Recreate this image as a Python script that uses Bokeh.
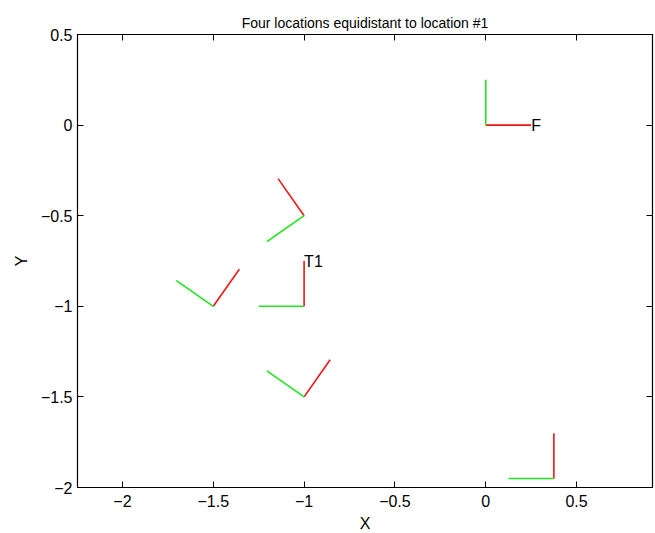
import numpy as np
from bokeh.plotting import figure
from bokeh.models import LinearAxis, Range1d, FixedTicker, ColumnDataSource, CustomJSTickFormatter
from bokeh.embed import file_html
from bokeh.resources import INLINE
from bokeh.core.properties import value

# Frame data: origins and rotation angles (degrees), axis length
frame_x = [0.0, -1.0, -1.0, -1.5, -1.0, 0.375]
frame_y = [0.0, -1.0, -0.5, -1.0, -1.5, -1.95]
frame_angle = [0.0, 90.0, 125.0, 55.0, 55.0, 90.0]
axis_len = 0.25

label_text = ["F", "T1"]
label_frame = [0, 1]

x_ticks = [-2, -1.5, -1, -0.5, 0, 0.5]
y_ticks = [-2, -1.5, -1, -0.5, 0, 0.5]

ox = np.array(frame_x)
oy = np.array(frame_y)
th = np.deg2rad(np.array(frame_angle))
red_x = ox + axis_len * np.cos(th)
red_y = oy + axis_len * np.sin(th)
green_x = ox - axis_len * np.sin(th)
green_y = oy + axis_len * np.cos(th)

FONT = "Liberation Sans"

p = figure(frame_width=575, frame_height=453,
           x_range=Range1d(-2.2475, 0.918), y_range=Range1d(-2.0, 0.5),
           output_backend="svg", toolbar_location=None,
           min_border_left=77, min_border_right=2, min_border_top=34,
           min_border_bottom=44, title="Four locations equidistant to location #1")

p.title.align = "center"
p.title.vertical_align = "top"
p.title.text_font = FONT
p.title.text_font_size = "14px"
p.title.text_font_style = "normal"
p.title.text_color = "#000000"
p.title.standoff = 4

p.xgrid.visible = False
p.ygrid.visible = False
p.outline_line_color = "#000000"
p.outline_line_width = 1.2

for ax in [p.xaxis[0], p.yaxis[0]]:
    ax.ticker = FixedTicker(ticks=x_ticks if ax is p.xaxis[0] else y_ticks)
    ax.major_tick_in = 6
    ax.major_tick_out = 0
    ax.minor_tick_in = 0
    ax.minor_tick_out = 0
    ax.axis_line_color = "#000000"
    ax.major_tick_line_color = "#000000"
    ax.major_label_text_font = FONT
    ax.major_label_text_font_size = "16px"
    ax.major_label_text_color = "#000000"
    ax.axis_label_text_font = FONT
    ax.axis_label_text_font_size = "16px"
    ax.axis_label_text_font_style = "normal"
    ax.axis_label_text_color = "#000000"
    ax.major_label_standoff = 5

p.xaxis.axis_label = "X"
p.yaxis.axis_label = "Y"
p.xaxis.major_label_standoff = 7
p.xaxis.axis_label_standoff = 5
p.yaxis.axis_label_standoff = 8
p.yaxis.major_label_orientation = "horizontal"

for side, ticks in [("above", x_ticks), ("right", y_ticks)]:
    ax = LinearAxis(ticker=FixedTicker(ticks=ticks),
                    formatter=CustomJSTickFormatter(code="return ''"))
    ax.major_tick_in = 6
    ax.major_tick_out = 0
    ax.minor_tick_in = 0
    ax.minor_tick_out = 0
    ax.major_label_standoff = 0
    ax.axis_line_color = "#000000"
    ax.major_tick_line_color = "#000000"
    p.add_layout(ax, side)

src = ColumnDataSource(dict(ox=ox, oy=oy, rx=red_x, ry=red_y, gx=green_x, gy=green_y))
p.segment(x0="ox", y0="oy", x1="rx", y1="ry", source=src, line_color="#f01414", line_width=1.6)
p.segment(x0="ox", y0="oy", x1="gx", y1="gy", source=src, line_color="#1ee61e", line_width=1.6)

lx = [red_x[i] for i in label_frame]
ly = [red_y[i] for i in label_frame]
p.text(x=lx, y=ly, text=label_text, text_font=value(FONT), text_font_size="16px",
       text_align="left", text_baseline="middle", text_color="#000000")

open("out.html", "w").write(file_html(p, INLINE))
